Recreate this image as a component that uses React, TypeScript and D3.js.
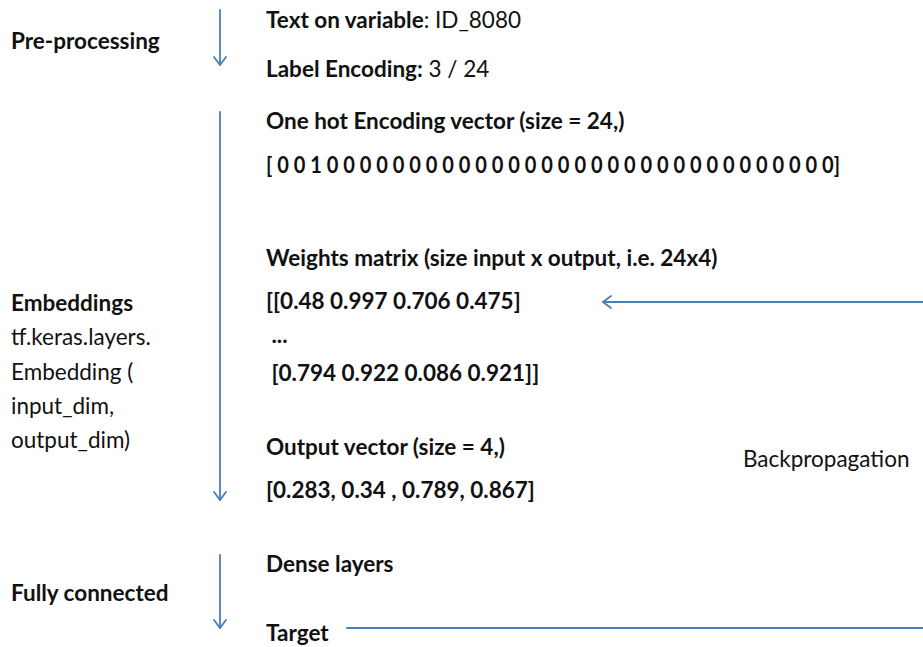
import React, { useRef, useEffect } from "react";
import * as d3 from "d3";

type Seg = { t: string; bold: boolean };

// left column: stage labels
const stageLabels: Seg[][] = [
  [{ t: "Pre-processing", bold: true }],
  [{ t: "Embeddings", bold: true }],
  [{ t: "tf.keras.layers.", bold: false }],
  [{ t: "Embedding (", bold: false }],
  [{ t: "input_dim,", bold: false }],
  [{ t: "output_dim)", bold: false }],
  [{ t: "Fully connected", bold: true }],
];

const oneHot = [0, 0, 1, ...Array(31).fill(0)];
const weightsFirst = ["0.48", "0.997", "0.706", "0.475"];
const weightsLast = ["0.794", "0.922", "0.086", "0.921"];
const outputVec = ["0.283", "0.34 ", "0.789", "0.867"];

// right column: step descriptions
const stepLines: Seg[][] = [
  [{ t: "Text on variable", bold: true }, { t: ": ID_8080", bold: false }],
  [{ t: "Label Encoding:", bold: true }, { t: " 3 / 24", bold: false }],
  [{ t: "One hot Encoding vector (size = 24,)", bold: true }],
  [{ t: "[ " + oneHot.join(" ") + "]", bold: true }],
  [{ t: "Weights matrix (size input x output, i.e. 24x4)", bold: true }],
  [{ t: "[[" + weightsFirst.join(" ") + "]", bold: true }],
  [{ t: " ...", bold: true }],
  [{ t: " [" + weightsLast.join(" ") + "]]", bold: true }],
  [{ t: "Output vector (size = 4,)", bold: true }],
  [{ t: "[" + outputVec.join(", ") + "]", bold: true }],
  [{ t: "Dense layers", bold: true }],
  [{ t: "Target", bold: true }],
];

// layout
const stageY = [49, 311, 345, 380, 414, 448, 601];
const stepY = [28, 77, 129, 173, 266, 309, 343, 381, 455, 498, 572, 641];
const arrows = [
  [10, 65],
  [112, 500],
  [555, 628],
];

const App: React.FC = () => {
  const ref = useRef<SVGSVGElement | null>(null);

  useEffect(() => {
    const width = 923;
    const height = 647;
    const blue = "#4a7ebb";
    const svg = d3.select(ref.current!);
    svg.selectAll("*").remove();
    svg.attr("width", width).attr("height", height);

    svg.append("rect").attr("width", width).attr("height", height).attr("fill", "#fff");

    const font = "Lato, 'Noto Sans', sans-serif";
    const fs = 22.5;

    const addLines = (lines: Seg[][], ys: number[], x: number) => {
      lines.forEach((segs, i) => {
        const t = svg
          .append("text")
          .attr("x", x)
          .attr("y", ys[i])
          .attr("font-family", font)
          .attr("font-size", fs)
          .attr("fill", "#111")
          .attr("xml:space", "preserve")
          .style("white-space", "pre");
        segs.forEach((s) => {
          t.append("tspan")
            .attr("font-weight", s.bold ? 700 : 400)
            .text(s.t);
        });
        // the long one-hot row is squeezed to the reference's width
        if (lines === stepLines && i === 3) {
          t.attr("textLength", 574).attr("lengthAdjust", "spacingAndGlyphs");
        }
      });
    };

    addLines(stageLabels, stageY, 11);
    addLines(stepLines, stepY, 266);

    svg
      .append("text")
      .attr("x", 743)
      .attr("y", 467)
      .attr("font-family", font)
      .attr("font-size", fs)
      .attr("fill", "#111")
      .text("Backpropagation");

    const g = svg
      .append("g")
      .attr("stroke", blue)
      .attr("stroke-width", 1.8)
      .attr("fill", "none")
      .attr("stroke-linecap", "round")
      .attr("stroke-linejoin", "round");

    const line = d3.line();
    const ax = 220;
    arrows.forEach(([y0, y1]) => {
      g.append("path").attr("d", line([[ax, y0], [ax, y1]]));
      g.append("path").attr(
        "d",
        line([
          [ax - 6, y1 - 8],
          [ax, y1],
          [ax + 6, y1 - 8],
        ])
      );
    });

    // backpropagation arrow
    const by = 302;
    g.append("path").attr("d", line([[603, by], [width, by]]));
    g.append("path").attr(
      "d",
      line([
        [611, by - 6],
        [603, by],
        [611, by + 6],
      ])
    );

    // target line
    g.append("path").attr("d", line([[347, 628], [width, 628]]));
  }, []);

  return (
    <div style={{ position: "fixed", top: 0, left: 0, width: 923, height: 647, overflow: "hidden" }}>
      <svg ref={ref} style={{ display: "block" }} />
    </div>
  );
};

export default App;
